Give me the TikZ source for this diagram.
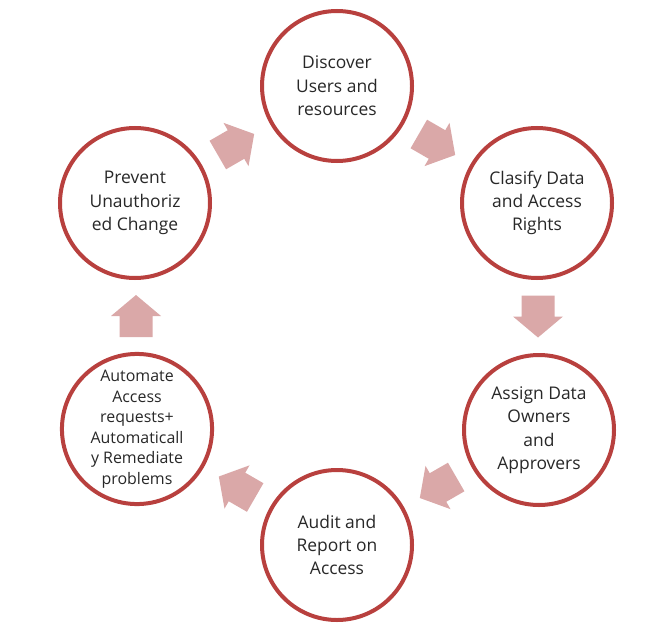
\documentclass[tikz,border=0pt]{standalone}
\usepackage{fontspec}
\setmainfont{Open Sans}
\usetikzlibrary{calc}
\definecolor{ringred}{RGB}{184,64,62}
\definecolor{arrowpink}{RGB}{218,168,168}
\definecolor{textgray}{RGB}{40,40,40}

\begin{document}
\begin{tikzpicture}[x=1bp, y=-1bp,
    step circle/.style={circle, draw=ringred, line width=4bp, fill=white,
        minimum size=150bp, inner sep=0pt, align=center, text=textgray,
        font=\fontsize{17.5}{23.5}\selectfont},
    small text/.style={font=\fontsize{16}{20.6}\selectfont},
    flow arrow/.pic={
        \fill[arrowpink] (-21,-16.5) -- (0,-16.5) -- (0,-25) -- (21,0)
            -- (0,25) -- (0,16.5) -- (-21,16.5) -- cycle;}]
    \useasboundingbox (0,0) rectangle (667,637);

    \node[step circle] (disc) at (337,86) {Discover\\Users and\\resources};
    \node[step circle] (clas) at (537,203) {Clasify Data\\and Access\\Rights};
    \node[step circle] (asgn) at (539,430) {Assign Data\\Owners\\and\\Approvers};
    \node[step circle] (audt) at (337,545) {Audit and\\Report on\\Access};
    \node[step circle, small text] (auto) at (137,429) {Automate\\Access\\requests+\\Automaticall\\y Remediate\\problems};
    \node[step circle] (prev) at (135,203) {Prevent\\Unauthoriz\\ed Change};

    \pic[rotate=-30] (a1) at ($(disc)!0.5!(clas)$) {flow arrow};
    \pic[rotate=-90] (a2) at ($(clas)!0.5!(asgn)$) {flow arrow};
    \pic[rotate=-150] (a3) at ($(asgn)!0.5!(audt)$) {flow arrow};
    \pic[rotate=150] (a4) at ($(audt)!0.5!(auto)$) {flow arrow};
    \pic[rotate=90] (a5) at ($(auto)!0.5!(prev)$) {flow arrow};
    \pic[rotate=30] (a6) at ($(prev)!0.5!(disc)$) {flow arrow};
\end{tikzpicture}
\end{document}
